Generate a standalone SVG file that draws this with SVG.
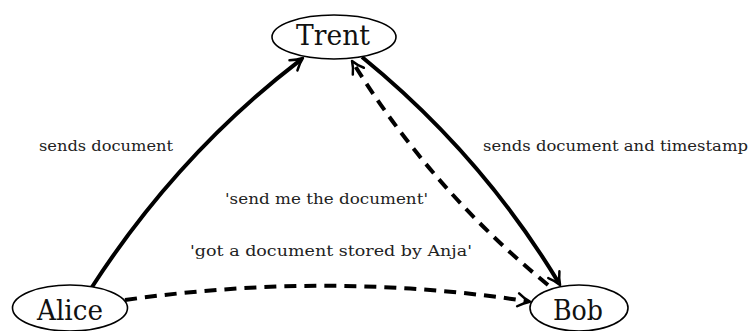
<svg xmlns="http://www.w3.org/2000/svg" width="754" height="331" viewBox="0 0 754 331">
  <style>
    .node ellipse { fill: #ffffff; stroke: #000000; stroke-width: 1.6; }
    .node text { font-family: "DejaVu Serif", "Liberation Serif", serif; font-size: 28px; fill: #111111; }
    .edge { fill: none; stroke: #000000; stroke-width: 4; }
    .dashed { stroke-dasharray: 12 8; }
    .label { font-family: "DejaVu Serif", "Liberation Serif", serif; font-size: 15.5px; fill: #222222; }
  </style>
  <defs>
    <marker id="arrow" markerUnits="userSpaceOnUse" orient="auto" refX="-3" refY="0"
            viewBox="-14 -9 16 18" markerWidth="16" markerHeight="18" overflow="visible">
      <path d="M -12 -6.5 C -8 -3.5 -3 -1 0 0 C -3 1 -8 3.5 -12 6.5"
            fill="none" stroke="#000000" stroke-width="2.5" stroke-linecap="round" stroke-linejoin="round"/>
    </marker>
  </defs>

  <rect width="754" height="331" fill="#ffffff"/>

  <g id="connectors">
    <!-- Alice to Trent -->
    <path class="edge" d="M 92 287 Q 178 154 300.6 59.8" marker-end="url(#arrow)"/>
    <!-- Trent to Bob -->
    <path class="edge" d="M 362 57 Q 481 154 558.5 282.4" marker-end="url(#arrow)"/>
    <!-- Bob to Trent (request) -->
    <path class="edge dashed" d="M 548 285 Q 432 190 353.6 63.5" marker-end="url(#arrow)"/>
    <!-- Alice to Bob (claim) -->
    <path class="edge dashed" d="M 125 300 Q 330 271 527 301.2" marker-end="url(#arrow)"/>
  </g>

  <g id="labels">
    <text class="label" x="39" y="151" textLength="134" lengthAdjust="spacingAndGlyphs">sends document</text>
    <text class="label" x="483" y="151" textLength="265" lengthAdjust="spacingAndGlyphs">sends document and timestamp</text>
    <text class="label" x="225" y="204" textLength="203" lengthAdjust="spacingAndGlyphs">'send me the document'</text>
    <text class="label" x="190" y="256" textLength="282" lengthAdjust="spacingAndGlyphs">'got a document stored by Anja'</text>
  </g>

  <g id="trent" class="node">
    <ellipse cx="334" cy="37" rx="62" ry="22"/>
    <text x="296" y="44.5" textLength="74" lengthAdjust="spacingAndGlyphs">Trent</text>
  </g>
  <g id="alice" class="node">
    <ellipse cx="70" cy="308" rx="57.5" ry="23"/>
    <text x="37" y="320" textLength="66" lengthAdjust="spacingAndGlyphs">Alice</text>
  </g>
  <g id="bob" class="node">
    <ellipse cx="579" cy="308" rx="49" ry="23"/>
    <text x="553" y="320" textLength="50" lengthAdjust="spacingAndGlyphs">Bob</text>
  </g>
</svg>
